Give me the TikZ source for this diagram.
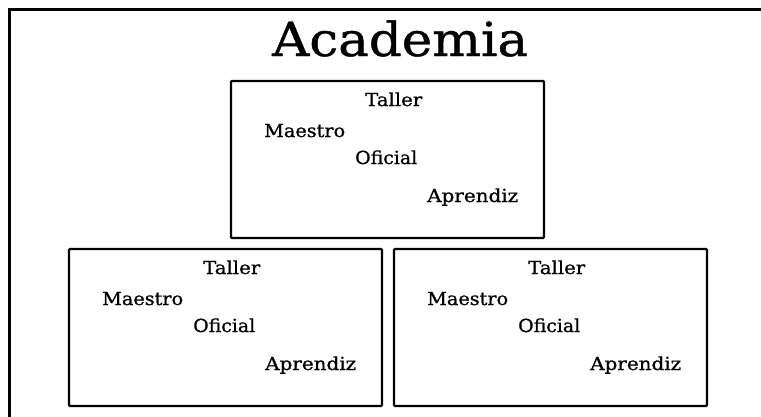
\documentclass[tikz,border=0pt]{standalone}
\usepackage{fontspec}
\setmainfont{DejaVu Serif}
\newfontfamily\twfont[FakeBold=0.9]{DejaVu Serif}
\usepackage{graphicx}
\newcommand{\fitw}[2]{\resizebox{#1}{\height}{#2}}
\tikzset{
  frame/.style={line width=2.8pt, line cap=rect},
  box/.style={draw, line width=2.3pt, rounded corners=1pt, inner sep=0pt, outer sep=0pt,
    anchor=north west, minimum width=313pt, minimum height=157pt},
  lbl/.style={inner sep=0pt, anchor=base west, font=\twfont\fontsize{18}{18}\selectfont},
  ttl/.style={inner sep=0pt, anchor=base west, font=\twfont\fontsize{47}{47}\selectfont}
}
\begin{document}
\begin{tikzpicture}[x=1pt,y=-1pt]
\useasboundingbox (0,0) rectangle (761,416);
\coordinate (fb) at (9.5,420);
\coordinate (fc) at (9.5,9.5);
\coordinate (fr) at (765,9.5);
\draw[frame] (fb) -- (fc) -- (fr);
\node[ttl] (title) at (272,56) {\fitw{256pt}{Academia}};
\foreach \n/\x/\y in {a/231/81, b/69/249, c/394/249}{
  \node[box] (\n) at (\x,\y) {};
  \node[lbl] (\n t) at ([shift={(134,25)}]\n.north west) {\fitw{57pt}{Taller}};
  \node[lbl] (\n m) at ([shift={(33,56)}]\n.north west) {\fitw{81pt}{Maestro}};
  \node[lbl] (\n o) at ([shift={(124,83)}]\n.north west) {\fitw{62pt}{Oficial}};
  \node[lbl] (\n p) at ([shift={(196,121)}]\n.north west) {\fitw{91pt}{Aprendiz}};
}
\end{tikzpicture}
\end{document}
